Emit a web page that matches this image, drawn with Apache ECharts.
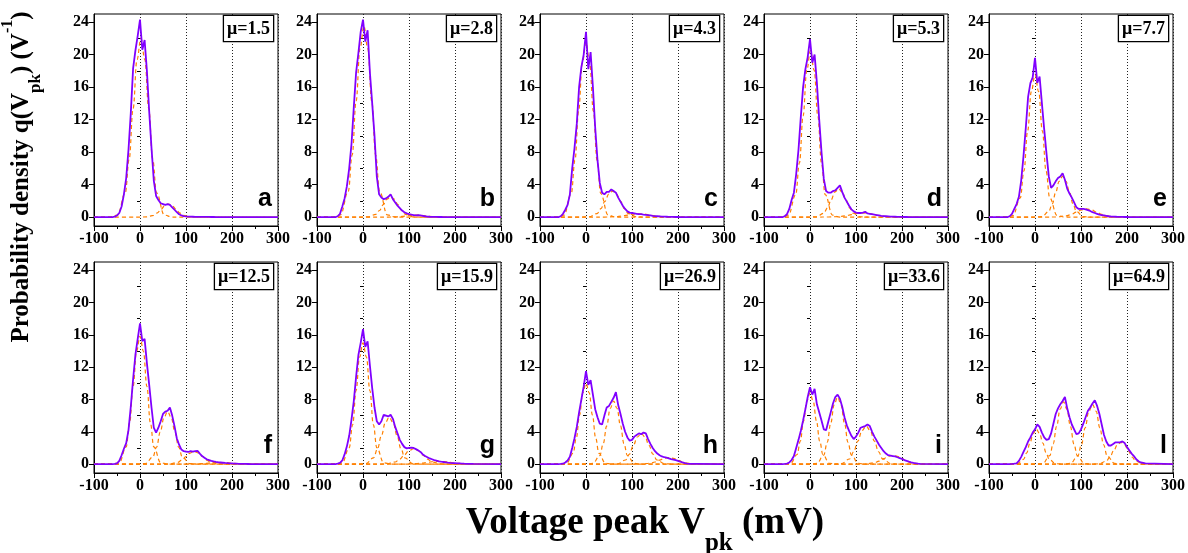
<!DOCTYPE html>
<html><head><meta charset="utf-8">
<script src="https://cdn.jsdelivr.net/npm/echarts@6/dist/echarts.min.js"></script>
<style>html,body{margin:0;padding:0;background:#fff}#c{width:1188px;height:553px}</style>
</head><body><div id="c"></div>
<script>
// Voltage peak grid (mV)
const X = [-100,
  -60,-55,-50,-45,-40,-35,-30,-25,-20,-15,
  -10,-5,0,5,10,15,20,25,30,35,
  40,45,50,55,60,65,70,75,80,85,
  90,95,100,105,110,115,120,125,130,135,
  140,145,150,155,160,165,170,175,180,185,
  190,195,200,205,210,215,220,225,230,235,
  240, 300];

const muLabels = ['μ=1.5','μ=2.8','μ=4.3','μ=5.3','μ=7.7','μ=12.5','μ=15.9','μ=26.9','μ=33.6','μ=64.9'];
const panelLetters = ['a','b','c','d','e','f','g','h','i','l'];
const xTickStep = 100;
const yTicks = [0,4,8,12,16,20,24];
const yMinorTicks = [2,6,10,14,18,22];

// Measured probability density q(Vpk) per panel (V^-1)
const qa = [0,
  0,0.05,0.2,0.5,1.3,2.8,4.8,8.3,12.8,18.3,
  20.5,22.3,24.3,20.6,21.8,18,13,8.5,4.5,2.6,
  2.1,1.7,1.6,1.5,1.6,1.5,1.2,0.9,0.6,0.35,
  0.2,0.12,0.08,0.06,0.05,0.04,0.03,0.03,0.02,0.02,
  0.02,0.02,0.02,0.01,0.01,0,0,0,0,0,
  0,0,0,0,0,0,0,0,0,0,
  0, 0];
const qb = [0,
  0,0.1,0.4,1.3,2.3,3.8,6,9,13.5,17.8,
  20.2,22.8,24.3,21.6,23,17.8,14,10,5,2.8,
  2.4,2.2,2.3,2.5,2.8,2.2,1.8,1.4,1.1,0.8,
  0.6,0.45,0.35,0.3,0.25,0.2,0.25,0.2,0.15,0.1,
  0.06,0.04,0.03,0.02,0.02,0.01,0.01,0,0,0,
  0,0,0,0,0,0,0,0,0,0,
  0, 0];
const qc = [0,
  0,0.1,0.4,0.9,1.5,2.8,6,8.5,11.5,16,
  18.5,20,22.8,18.2,20.3,16,11,7,4.2,3,
  2.8,3.1,3.1,3.4,3.2,3,2.4,1.9,1.4,1.0,
  0.7,0.55,0.5,0.45,0.4,0.35,0.35,0.3,0.28,0.25,
  0.2,0.15,0.12,0.1,0.08,0.06,0.05,0.04,0.03,0.02,
  0.02,0.01,0.01,0,0,0,0,0,0,0,
  0, 0];
const qd = [0,
  0,0.1,0.35,1.0,2.1,3,5.3,8.3,12.3,16,
  18.2,19.7,21.9,19,20,16.5,12,8,4.7,3.2,
  3,3,3.2,3.3,3.6,3.9,3.1,2.4,1.9,1.4,
  0.95,0.7,0.55,0.5,0.5,0.55,0.65,0.45,0.4,0.35,
  0.3,0.25,0.2,0.15,0.12,0.1,0.08,0.06,0.05,0.04,
  0.03,0.02,0.02,0.01,0.01,0,0,0,0,0,
  0, 0];
const qe = [0,
  0,0.1,0.4,1.0,1.6,2.5,4.5,7.5,11,14.8,
  16.5,17.2,19.6,16.5,17.3,14,10.8,7.8,5,3.6,
  3.9,4.4,4.8,5,5.4,4.6,3.5,2.9,2.4,1.8,
  1.2,1.0,1.0,1.0,0.95,0.85,0.75,0.6,0.5,0.4,
  0.3,0.25,0.2,0.15,0.1,0.07,0.05,0.04,0.03,0.02,
  0.02,0.01,0.01,0,0,0,0,0,0,0,
  0, 0];
const qf = [0,
  0,0.03,0.1,0.4,1.1,1.9,2.6,4.2,7.1,10.5,
  13.5,15.5,17.4,15.2,15.5,12.5,9.8,7,4.5,3.9,
  4.5,5.3,6.2,6.5,6.6,7,6,4.7,3.2,2.4,
  1.8,1.6,1.55,1.5,1.6,1.55,1.6,1.65,1.3,1.0,
  0.8,0.6,0.5,0.4,0.33,0.27,0.23,0.2,0.17,0.14,
  0.12,0.1,0.08,0.06,0.05,0.04,0.03,0.025,0.02,0.015,
  0.01, 0];
const qg = [0,
  0,0.05,0.15,0.45,1.2,2.2,3.5,5.5,7.8,10.8,
  13.5,15,16.7,14.5,15.2,12.2,9.4,7,5.3,4.9,
  5.3,6.1,6,5.9,6.1,5.6,4.6,3.8,3,2.5,
  2.1,1.95,2,2.05,2,1.85,1.7,1.5,1.2,1.0,
  0.85,0.7,0.6,0.5,0.42,0.35,0.3,0.26,0.22,0.18,
  0.15,0.13,0.11,0.09,0.08,0.07,0.05,0.04,0.03,0.025,
  0.02, 0];
const qh = [0,
  0,0.02,0.05,0.2,0.45,0.9,2,3.2,4.6,6.4,
  8,9.6,11.5,9.8,10.4,8.6,6.8,5.8,5,4.9,
  6,7,7.2,7.7,8.2,8.9,7.3,6.2,5,4,
  3.3,2.9,3,3.4,3.6,3.8,3.7,3.9,3.8,3.1,
  2.5,2,1.6,1.3,1.1,0.95,0.85,0.8,0.72,0.62,
  0.55,0.48,0.4,0.3,0.2,0.12,0.07,0.04,0.03,0.02,
  0.02, 0];
const qi = [0,
  0,0.02,0.06,0.2,0.5,1.0,2,3,4.1,5.4,
  6.8,8.3,9.5,8.6,9.3,7.4,6.4,5.4,4.3,4.2,
  5.3,6.4,7.5,8.3,8.6,8.1,7.1,5.8,4.8,4.1,
  3.5,3.1,3.4,3.9,4.5,4.6,4.7,4.9,4.7,4,
  3.4,2.9,2.4,2,1.6,1.3,1.1,1.05,1.0,0.95,
  0.85,0.75,0.65,0.5,0.4,0.3,0.22,0.15,0.1,0.05,
  0.02, 0];
const ql = [0,
  0,0,0.02,0.05,0.1,0.4,0.9,1.5,2.1,2.8,
  3.3,3.9,4.3,4.9,4.6,3.9,3.3,3,3.1,3.8,
  5,6.2,6.9,7.4,7.8,8.3,6.9,5.8,4.9,4.3,
  3.7,3.8,4.3,5,5.8,6.6,7,7.5,7.9,7.2,
  6.2,4.9,3.6,2.8,2.3,2.3,2.5,2.7,2.7,2.7,
  2.8,2.6,2.1,1.7,1.3,1.0,0.6,0.35,0.2,0.15,
  0.1, 0];

// Fitted photo-electron peak components, [Vpk, q]
const fitA = [
  [[-66,0],[-49,0.24],[-32,2.97],[-23.5,7.15],[-15,13.35],[-6.5,19.4],[2,22],[10.5,19.4],[19,13.35],[27.5,7.15],[36,2.97],[53,0.24],[70,0]],
  [[-2,0],[14,0.02],[30,0.22],[38,0.52],[46,0.97],[54,1.41],[62,1.6],[70,1.41],[78,0.97],[86,0.52],[94,0.22],[110,0.02],[126,0]]
];
const fitB = [
  [[-66,0],[-49,0.26],[-32,3.17],[-23.5,7.64],[-15,14.26],[-6.5,20.73],[2,23.5],[10.5,20.73],[19,14.26],[27.5,7.64],[36,3.17],[53,0.26],[70,0]],
  [[-4,0],[12,0.03],[28,0.34],[36,0.81],[44,1.52],[52,2.2],[60,2.5],[68,2.2],[76,1.52],[84,0.81],[92,0.34],[108,0.03],[124,0]],
  [[35,0],[55,0],[75,0.03],[85,0.08],[95,0.15],[105,0.22],[115,0.25],[125,0.22],[135,0.15],[145,0.08],[155,0.03],[175,0],[195,0]]
];
const fitC = [
  [[-64,0],[-48,0.24],[-32,2.9],[-24,7],[-16,13.05],[-8,18.96],[0,21.5],[8,18.96],[16,13.05],[24,7],[32,2.9],[48,0.24],[64,0]],
  [[-10,0],[7,0.04],[24,0.43],[32.5,1.04],[41,1.94],[49.5,2.82],[58,3.2],[66.5,2.82],[75,1.94],[83.5,1.04],[92,0.43],[109,0.04],[126,0]],
  [[15,0],[40,0],[65,0.05],[77.5,0.13],[90,0.24],[102.5,0.35],[115,0.4],[127.5,0.35],[140,0.24],[152.5,0.13],[165,0.05],[190,0],[215,0]]
];
const fitD = [
  [[-63,0],[-47,0.23],[-31,2.77],[-23,6.66],[-15,12.44],[-7,18.08],[1,20.5],[9,18.08],[17,12.44],[25,6.66],[33,2.77],[49,0.23],[65,0]],
  [[-2,0],[14,0.04],[30,0.47],[38,1.14],[46,2.12],[54,3.09],[62,3.5],[70,3.09],[78,2.12],[86,1.14],[94,0.47],[110,0.04],[126,0]],
  [[15,0],[40,0.01],[65,0.07],[77.5,0.16],[90,0.3],[102.5,0.44],[115,0.5],[127.5,0.44],[140,0.3],[152.5,0.16],[165,0.07],[190,0.01],[215,0]]
];
const fitE = [
  [[-64,0],[-48,0.19],[-32,2.36],[-24,5.69],[-16,10.62],[-8,15.44],[0,17.5],[8,15.44],[16,10.62],[24,5.69],[32,2.36],[48,0.19],[64,0]],
  [[0,0],[15,0.06],[30,0.68],[37.5,1.63],[45,3.04],[52.5,4.41],[60,5],[67.5,4.41],[75,3.04],[82.5,1.63],[90,0.68],[105,0.06],[120,0]],
  [[24,0],[46,0.01],[68,0.14],[79,0.33],[90,0.61],[101,0.88],[112,1.0],[123,0.88],[134,0.61],[145,0.33],[156,0.14],[178,0.01],[200,0]]
];
const fitF = [
  [[-60,0],[-45,0.17],[-30,2.13],[-22.5,5.14],[-15,9.59],[-7.5,13.94],[0,15.8],[7.5,13.94],[15,9.59],[22.5,5.14],[30,2.13],[45,0.17],[60,0]],
  [[-4,0],[12,0.07],[28,0.88],[36,2.11],[44,3.95],[52,5.73],[60,6.5],[68,5.73],[76,3.95],[84,2.11],[92,0.88],[108,0.07],[124,0]],
  [[46,0],[64,0.02],[82,0.21],[91,0.5],[100,0.94],[109,1.37],[118,1.55],[127,1.37],[136,0.94],[145,0.5],[154,0.21],[172,0.02],[190,0]],
  [[75,0],[100,0],[125,0.03],[137.5,0.07],[150,0.12],[162.5,0.18],[175,0.2],[187.5,0.18],[200,0.12],[212.5,0.07],[225,0.03],[250,0],[275,0]]
];
const fitG = [
  [[-60,0],[-45,0.17],[-30,2.03],[-22.5,4.88],[-15,9.1],[-7.5,13.23],[0,15],[7.5,13.23],[15,9.1],[22.5,4.88],[30,2.03],[45,0.17],[60,0]],
  [[-11,0],[6,0.06],[23,0.78],[31.5,1.89],[40,3.52],[48.5,5.12],[57,5.8],[65.5,5.12],[74,3.52],[82.5,1.89],[91,0.78],[108,0.06],[125,0]],
  [[30,0],[50,0.02],[70,0.26],[80,0.62],[90,1.15],[100,1.68],[110,1.9],[120,1.68],[130,1.15],[140,0.62],[150,0.26],[170,0.02],[190,0]],
  [[65,0],[90,0],[115,0.05],[127.5,0.11],[140,0.21],[152.5,0.31],[165,0.35],[177.5,0.31],[190,0.21],[202.5,0.11],[215,0.05],[240,0],[265,0]]
];
const fitH = [
  [[-56,0],[-42,0.11],[-28,1.35],[-21,3.25],[-14,6.07],[-7,8.82],[0,10],[7,8.82],[14,6.07],[21,3.25],[28,1.35],[42,0.11],[56,0]],
  [[0,0],[15,0.09],[30,1.05],[37.5,2.54],[45,4.73],[52.5,6.88],[60,7.8],[67.5,6.88],[75,4.73],[82.5,2.54],[90,1.05],[105,0.09],[120,0]],
  [[52,0],[69,0.04],[86,0.51],[94.5,1.24],[103,2.31],[111.5,3.35],[120,3.8],[128.5,3.35],[137,2.31],[145.5,1.24],[154,0.51],[171,0.04],[188,0]],
  [[100,0],[120,0.01],[140,0.11],[150,0.26],[160,0.49],[170,0.71],[180,0.8],[190,0.71],[200,0.49],[210,0.26],[220,0.11],[240,0.01],[260,0]]
];
const fitI = [
  [[-56,0],[-42,0.1],[-28,1.19],[-21,2.86],[-14,5.34],[-7,7.76],[0,8.8],[7,7.76],[14,5.34],[21,2.86],[28,1.19],[42,0.1],[56,0]],
  [[0,0],[15,0.09],[30,1.12],[37.5,2.7],[45,5.04],[52.5,7.32],[60,8.3],[67.5,7.32],[75,5.04],[82.5,2.7],[90,1.12],[105,0.09],[120,0]],
  [[50,0],[68,0.05],[86,0.63],[95,1.53],[104,2.85],[113,4.15],[122,4.7],[131,4.15],[140,2.85],[149,1.53],[158,0.63],[176,0.05],[194,0]],
  [[100,0],[120,0.01],[140,0.15],[150,0.36],[160,0.67],[170,0.97],[180,1.1],[190,0.97],[200,0.67],[210,0.36],[220,0.15],[240,0.01],[260,0]]
];
const fitL = [
  [[-53,0],[-39,0.05],[-25,0.58],[-18,1.4],[-11,2.61],[-4,3.79],[3,4.3],[10,3.79],[17,2.61],[24,1.4],[31,0.58],[45,0.05],[59,0]],
  [[2,0],[17,0.08],[32,1.04],[39.5,2.5],[47,4.67],[54.5,6.79],[62,7.7],[69.5,6.79],[77,4.67],[84.5,2.5],[92,1.04],[107,0.08],[122,0]],
  [[61,0],[77,0.08],[93,1.0],[101,2.41],[109,4.49],[117,6.53],[125,7.4],[133,6.53],[141,4.49],[149,2.41],[157,1.0],[173,0.08],[189,0]],
  [[123,0],[139,0.03],[155,0.36],[163,0.88],[171,1.64],[179,2.38],[187,2.7],[195,2.38],[203,1.64],[211,0.88],[219,0.36],[235,0.03],[251,0]]
];

const densities = [qa,qb,qc,qd,qe,qf,qg,qh,qi,ql];
const fits = [fitA,fitB,fitC,fitD,fitE,fitF,fitG,fitH,fitI,fitL];

// ---- layout ----
const LEFTS = [94, 317, 540, 764, 989];
const TOPS = [14, 262];
const HEIGHTS = [212, 211];
const W = 184;
const SERIF = '"Liberation Serif","Times New Roman",serif';
const SANS = '"Liberation Sans",Arial,sans-serif';
const PURPLE = '#8000ff';
const ORANGE = '#ff8000';

const grids = [], xAxes = [], yAxes = [], series = [], graphics = [];
for (let i = 0; i < 10; i++) {
  const r = Math.floor(i / 5), c = i % 5;
  const left = LEFTS[c], top = TOPS[r], h = HEIGHTS[r];
  grids.push({left, top, width: W, height: h, show: true, borderColor: '#000', borderWidth: 1,
    backgroundColor: 'transparent', containLabel: false, outerBoundsMode: 'none'});
  xAxes.push({
    type: 'value', gridIndex: i, min: -100, max: 300, interval: xTickStep,
    axisLine: {show: true, onZero: false, lineStyle: {color: '#000', width: 1}},
    axisTick: {show: true, length: 5, lineStyle: {color: '#000', width: 1}},
    minorTick: {show: true, splitNumber: 2, length: 3, lineStyle: {color: '#000', width: 1}},
    splitLine: {show: true, lineStyle: {color: '#222', width: 1, type: [1, 2]}},
    axisLabel: {show: true, color: '#000', fontFamily: SERIF, fontWeight: 'bold', fontSize: 16, margin: 5,
      showMinLabel: true, showMaxLabel: true}
  });
  yAxes.push({
    type: 'value', gridIndex: i, min: -1.1, max: 25, position: 'left',
    axisLine: {show: true, onZero: false, lineStyle: {color: '#000', width: 1}},
    axisTick: {show: true, length: 5, customValues: yTicks, lineStyle: {color: '#000', width: 1}},
    splitLine: {show: false},
    axisLabel: {show: true, customValues: yTicks, color: '#000', fontFamily: SERIF, fontWeight: 'bold', fontSize: 16, margin: 5}
  });
  yAxes.push({
    type: 'value', gridIndex: i, min: -1.1, max: 25, position: 'left',
    axisLine: {show: false},
    axisTick: {show: true, length: 3, customValues: yMinorTicks, lineStyle: {color: '#000', width: 1}},
    splitLine: {show: false},
    axisLabel: {show: false}
  });
  fits[i].forEach(comp => {
    series.push({
      type: 'line', xAxisIndex: i, yAxisIndex: 2 * i, data: [[-100, 0]].concat(comp, [[300, 0]]),
      smooth: 0.4, smoothMonotone: 'x', symbol: 'none', silent: true, z: 2,
      lineStyle: {color: ORANGE, width: 1.2, type: [4, 3]}
    });
  });
  series.push({
    type: 'line', xAxisIndex: i, yAxisIndex: 2 * i, data: X.map((x, k) => [x, densities[i][k]]),
    symbol: 'none', silent: true, z: 3,
    lineStyle: {color: PURPLE, width: 1.8}
  });
  graphics.push({
    type: 'text', x: left + W - 5, y: top + 2, z: 10,
    style: {text: muLabels[i], fontFamily: SERIF, fontWeight: 'bold', fontSize: 18, fill: '#000',
      align: 'right', verticalAlign: 'top', backgroundColor: '#fff', borderColor: '#000', borderWidth: 1.3,
      padding: [4, 3, 3, 3]}
  });
  graphics.push({
    type: 'text', x: left + W - 6, y: top + h - 27, z: 10,
    style: {text: panelLetters[i], fontFamily: SANS, fontWeight: 'bold', fontSize: 25, fill: '#000',
      align: 'right', verticalAlign: 'middle'}
  });
}

graphics.push({
  type: 'text', x: 645, y: 523, z: 10,
  style: {
    text: '{m|Voltage peak V}{s|pk}{m| (mV)}',
    align: 'center', verticalAlign: 'middle', fill: '#000',
    rich: {
      m: {fontFamily: SERIF, fontWeight: 'bold', fontSize: 37, lineHeight: 66, fill: '#000'},
      s: {fontFamily: SERIF, fontWeight: 'bold', fontSize: 25, lineHeight: 12, verticalAlign: 'bottom', fill: '#000'}
    }
  }
});
graphics.push({
  type: 'text', x: 22, y: 177, rotation: Math.PI / 2, z: 10,
  style: {
    text: '{m|Probability density q(V}{s|pk}{m|) (V}{p|-1}{m|)}',
    align: 'center', verticalAlign: 'middle', fill: '#000',
    rich: {
      m: {fontFamily: SERIF, fontWeight: 'bold', fontSize: 25, lineHeight: 44, fill: '#000'},
      s: {fontFamily: SERIF, fontWeight: 'bold', fontSize: 17, lineHeight: 12, verticalAlign: 'bottom', fill: '#000'},
      p: {fontFamily: SERIF, fontWeight: 'bold', fontSize: 16, lineHeight: 24, verticalAlign: 'top', fill: '#000'}
    }
  }
});

const chart = echarts.init(document.getElementById('c'), null, {renderer: 'canvas'});
chart.setOption({
  animation: false,
  backgroundColor: '#fff',
  grid: grids, xAxis: xAxes, yAxis: yAxes, series: series, graphic: graphics
});
</script>
</body></html>
